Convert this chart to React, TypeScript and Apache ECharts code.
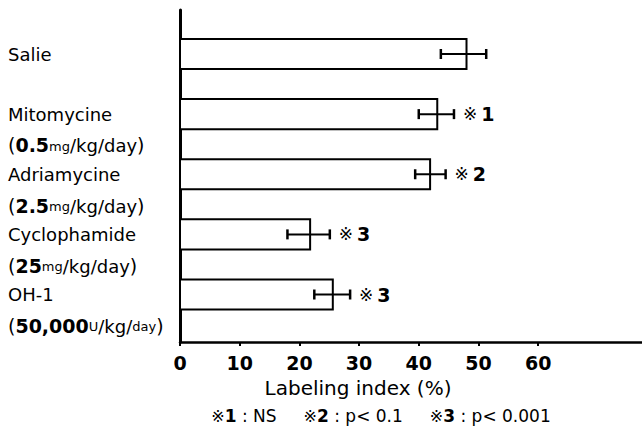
import React, { useEffect, useRef } from "react";
import * as echarts from "echarts";

const categories = ["Salie", "Mitomycine", "Adriamycine", "Cyclophamide", "OH-1"];
const doseAmount = ["", "0.5", "2.5", "25", "50,000"];
const doseUnit = ["", "mg", "mg", "mg", "U"];
const doseRest = ["", "/kg/day", "/kg/day", "/kg/day", "/kg/"];
const doseTail = ["", "", "", "", "day"];
const values = [48.0, 43.1, 41.9, 21.8, 25.6];
const errLow = [43.7, 40.0, 39.4, 18.0, 22.5];
const errHigh = [51.3, 45.9, 44.5, 25.1, 28.5];
const sigMarks = ["", "1", "2", "3", "3"];
const xTickValues = [0, 10, 20, 30, 40, 50, 60];
const axisName = "Labeling index (%)";
const footnote = [
  { n: "1", t: " : NS" },
  { n: "2", t: " : p< 0.1" },
  { n: "3", t: " : p< 0.001" },
];

const FONT = "'DejaVu Sans', 'Noto Sans CJK JP', sans-serif";
const DOSE_SHIFT = 0.52;
const Y_MIN = -0.732;
const Y_MAX = 4.79;

export default function App() {
  const ref = useRef<HTMLDivElement>(null);
  useEffect(() => {
    if (!ref.current) return;
    const chart = echarts.init(ref.current, null, { renderer: "svg" });
    const data = values.map((v, i) => [v, i, errLow[i], errHigh[i]]);
    const footRich =
      footnote.map((f) => `{a|※}{b|${f.n}}{c|${f.t}}`).join("{c|     }");
    const catIdx = categories.map((_, i) => i);
    const doseIdx = catIdx.filter((i) => doseAmount[i]).map((i) => i + DOSE_SHIFT);
    const richStyles = {
      n: { fontFamily: FONT, fontSize: 18, color: "#000", verticalAlign: "bottom" },
      p: { fontFamily: FONT, fontSize: 19, color: "#000", verticalAlign: "bottom" },
      b: { fontFamily: FONT, fontSize: 19, fontWeight: "bold", color: "#000", verticalAlign: "bottom" },
      s: { fontFamily: FONT, fontSize: 13, color: "#000", verticalAlign: "bottom", padding: [0, 0, 2, 0] },
    };
    chart.setOption({
      animation: false,
      backgroundColor: "#fff",
      grid: { left: 180, right: 0, top: 10, bottom: 86, outerBoundsMode: "none" },
      xAxis: {
        type: "value",
        min: 0,
        max: 77.4,
        axisLine: { onZero: false, lineStyle: { color: "#000", width: 2.5 } },
        axisTick: {
          show: true,
          customValues: xTickValues,
          length: 4,
          lineStyle: { color: "#000", width: 2 },
        },
        axisLabel: {
          customValues: xTickValues,
          margin: 11,
          color: "#000",
          fontFamily: FONT,
          fontWeight: "bold",
          fontSize: 19,
          hideOverlap: false,
        },
        splitLine: { show: false },
      },
      yAxis: [
        {
          type: "value",
          inverse: true,
          min: Y_MIN,
          max: Y_MAX,
          axisLine: { show: true, onZero: false, lineStyle: { color: "#000", width: 3 } },
          axisTick: { show: false },
          splitLine: { show: false },
          axisLabel: {
            customValues: catIdx,
            align: "left",
            margin: 172,
            hideOverlap: false,
            formatter: (val: number) => `{n|${categories[Math.round(val)]}}`,
            rich: richStyles,
          },
        },
        {
          type: "value",
          position: "left",
          offset: 0,
          inverse: true,
          min: Y_MIN,
          max: Y_MAX,
          axisLine: { show: false, onZero: false },
          axisTick: { show: false },
          splitLine: { show: false },
          axisLabel: {
            customValues: doseIdx,
            align: "left",
            margin: 172,
            hideOverlap: false,
            formatter: (val: number) => {
              const i = Math.round(val - DOSE_SHIFT);
              let dose = `{p|(}{b|${doseAmount[i]}}{s|${doseUnit[i]}}{n|${doseRest[i]}}`;
              if (doseTail[i]) dose += `{s|${doseTail[i]}}`;
              return dose + `{p|)}`;
            },
            rich: richStyles,
          },
        },
      ],
      series: [
        {
          type: "custom",
          yAxisIndex: 0,
          data,
          renderItem: (params: any, api: any) => {
            const v = api.value(0);
            const idx = api.value(1);
            const lo = api.value(2);
            const hi = api.value(3);
            const p0 = api.coord([0, idx - 0.25]);
            const p1 = api.coord([v, idx + 0.25]);
            const yc = api.coord([0, idx])[1];
            const xl = api.coord([lo, idx])[0];
            const xh = api.coord([hi, idx])[0];
            const children: any[] = [
              {
                type: "rect",
                shape: {
                  x: p0[0],
                  y: Math.min(p0[1], p1[1]),
                  width: p1[0] - p0[0],
                  height: Math.abs(p1[1] - p0[1]),
                },
                style: { fill: "#fff", stroke: "#000", lineWidth: 2 },
              },
              { type: "line", shape: { x1: xl, y1: yc, x2: xh, y2: yc }, style: { stroke: "#000", lineWidth: 2 } },
              { type: "line", shape: { x1: xl, y1: yc - 5, x2: xl, y2: yc + 5 }, style: { stroke: "#000", lineWidth: 2.5 } },
              { type: "line", shape: { x1: xh, y1: yc - 5, x2: xh, y2: yc + 5 }, style: { stroke: "#000", lineWidth: 2.5 } },
            ];
            const s = sigMarks[params.dataIndex];
            if (s) {
              children.push({
                type: "text",
                x: xh + 9,
                y: yc,
                style: {
                  text: `{a|※}{b|${s}}`,
                  verticalAlign: "middle",
                  align: "left",
                  rich: {
                    a: { fontFamily: FONT, fontSize: 17, fill: "#000" },
                    b: { fontFamily: FONT, fontSize: 19, fontWeight: "bold", fill: "#000", padding: [0, 0, 0, 4] },
                  },
                },
              });
            }
            return { type: "group", children };
          },
        },
      ],
      graphic: [
        {
          type: "text",
          x: 358,
          y: 388,
          style: {
            text: axisName,
            fontFamily: FONT,
            fontSize: 20,
            fill: "#000",
            align: "center",
            verticalAlign: "middle",
          },
        },
        {
          type: "text",
          x: 381,
          y: 416,
          style: {
            text: footRich,
            align: "center",
            verticalAlign: "middle",
            rich: {
              a: { fontFamily: FONT, fontSize: 16, fill: "#000" },
              b: { fontFamily: FONT, fontSize: 17, fontWeight: "bold", fill: "#000" },
              c: { fontFamily: FONT, fontSize: 17, fill: "#000" },
            },
          },
        },
      ],
    });
    return () => chart.dispose();
  }, []);
  return <div ref={ref} style={{ width: 642, height: 428, position: "absolute", left: 0, top: 0 }} />;
}
